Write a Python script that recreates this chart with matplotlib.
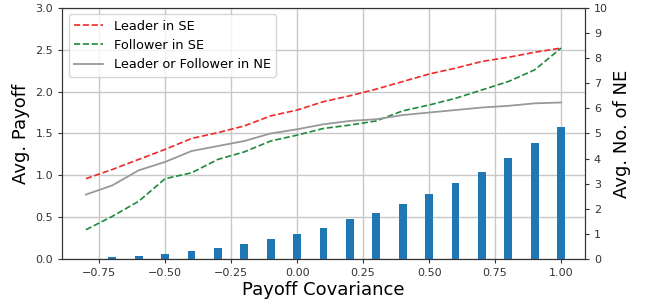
import numpy as np
import matplotlib.pyplot as plt

# payoff covariance values (x)
cov = [-0.8, -0.7, -0.6, -0.5, -0.4, -0.3, -0.2, -0.1, 0.0, 0.1,
       0.2, 0.3, 0.4, 0.5, 0.6, 0.7, 0.8, 0.9, 1.0]

leader_se = [0.96, 1.07, 1.19, 1.31, 1.44, 1.51, 1.59, 1.71, 1.78, 1.88,
             1.95, 2.03, 2.12, 2.21, 2.28, 2.36, 2.41, 2.47, 2.52]
follower_se = [0.35, 0.51, 0.69, 0.96, 1.03, 1.19, 1.28, 1.41, 1.48, 1.56,
               1.60, 1.65, 1.77, 1.84, 1.92, 2.02, 2.12, 2.26, 2.52]
either_ne = [0.77, 0.88, 1.06, 1.16, 1.29, 1.35, 1.41, 1.50, 1.55, 1.61,
             1.65, 1.67, 1.72, 1.75, 1.78, 1.81, 1.83, 1.86, 1.87]

num_ne = [0.02, 0.08, 0.12, 0.2, 0.33, 0.44, 0.6, 0.8, 1.0, 1.24,
          1.6, 1.83, 2.19, 2.59, 3.03, 3.47, 4.02, 4.62, 5.26]

fig, ax = plt.subplots(figsize=(6.47, 3.03), dpi=100)
fig.subplots_adjust(left=0.096, right=0.904, top=0.974, bottom=0.145)

ax.plot(cov, leader_se, '--', color='#ee2a2a', lw=1.2, label='Leader in SE')
ax.plot(cov, follower_se, '--', color='#1e8a3e', lw=1.2, label='Follower in SE')
ax.plot(cov, either_ne, '-', color='#999999', lw=1.3, label='Leader or Follower in NE')

ax.set_ylim(0, 3.0)
ax.set_yticks(np.arange(0, 3.01, 0.5))
ax.set_xticks([-0.75, -0.5, -0.25, 0.0, 0.25, 0.5, 0.75, 1.0])
ax.grid(True, color='#c8c8c8', lw=1.0)
ax.set_axisbelow(True)
ax.tick_params(labelsize=8, colors='#333333', length=3)
ax.set_xlabel('Payoff Covariance', fontsize=13, labelpad=2)
ax.set_ylabel('Avg. Payoff', fontsize=13)
ax.legend(loc='upper left', fontsize=9.3, handlelength=2.3)

ax2 = ax.twinx()
ax2.bar(cov, num_ne, width=0.03, color='#1f77b4')
ax2.set_ylim(0, 10)
ax2.set_yticks(range(0, 11))
ax2.tick_params(labelsize=8, colors='#333333', length=3)
ax2.set_ylabel('Avg. No. of NE', fontsize=13)

for a in (ax, ax2):
    for s in a.spines.values():
        s.set_color('#333333')

ax.set_xlim(-0.89, 1.09)

fig.savefig('out.png')
